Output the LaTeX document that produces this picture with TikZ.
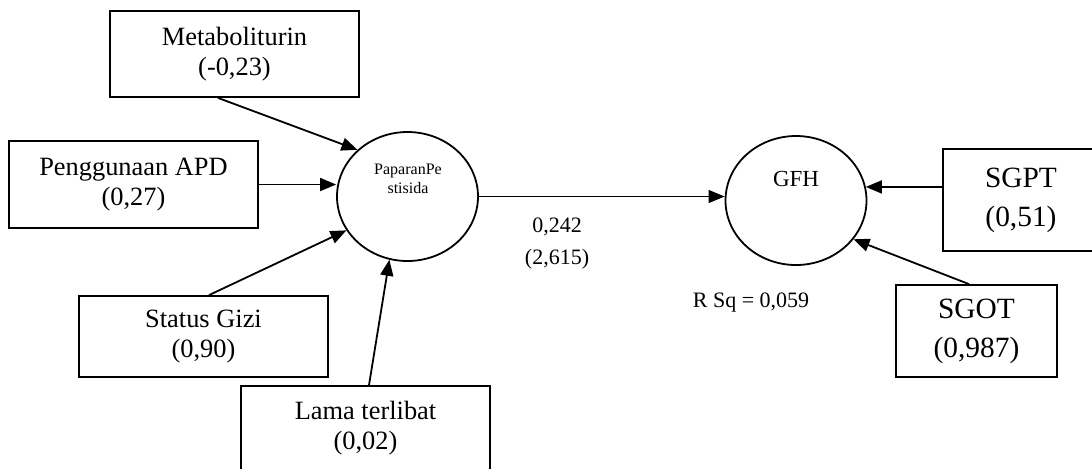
\documentclass[tikz,border=0pt]{standalone}
\usepackage{fontspec}
\setmainfont{Liberation Serif}
\usetikzlibrary{shapes.geometric,arrows.meta}

\begin{document}
\begin{tikzpicture}[x=0.5pt,y=-0.5pt,
  obsbox/.style={draw,line width=0.9pt,inner sep=0pt,align=center,minimum width=124.5pt,font=\fontsize{13.2}{15}\selectfont},
  bigbox/.style={obsbox,font=\fontsize{14.7}{19.5}\selectfont},
  latent/.style={draw,ellipse,line width=0.9pt,inner sep=0pt,minimum width=70.5pt,minimum height=64.5pt},
  arr/.style={line width=0.9pt,-{Triangle[length=8pt,width=6.5pt]}},
  lbl/.style={align=center,font=\fontsize{11}{16}\selectfont}]
\useasboundingbox (0,0) rectangle (1092,468);
% exogenous boxes
\node[obsbox,minimum height=43pt] (meta) at (234.5,54) {Metaboliturin\\(-0,23)};
\node[obsbox,minimum height=43.5pt] (apd) at (133.5,184.5) {Penggunaan APD\\(0,27)};
\node[obsbox,minimum height=40.5pt] (gizi) at (203.5,336.5) {Status Gizi\\(0,90)};
\node[obsbox,minimum height=42pt] (lama) at (365.5,428) {Lama terlibat\\(0,02)};
% latent
\node[latent] (pp) at (407.5,196.5) {};
\node[font=\fontsize{8}{9.5}\selectfont,align=center] (pptext) at (408,179) {PaparanPe\\stisida};
\node[latent] (gfh) at (796,200.5) {};
\node[font=\fontsize{11.5}{13}\selectfont] (gfhtext) at (796,179) {GFH};
% indicators
\node[bigbox,minimum width=78pt,minimum height=51pt] (sgpt) at (1021,200) {SGPT\\(0,51)};
\node[bigbox,minimum width=80.5pt,minimum height=46pt] (sgot) at (976.5,331) {SGOT\\(0,987)};
% labels
\node[lbl] (path) at (557,244) {0,242\\(2,615)};
\node[lbl] (rsq) at (751,303) {R Sq = 0,059};
% arrows
\draw[arr] ([xshift=-8.25pt]meta.south) -- (pp.137);
\draw[arr] (apd.east) -- (apd.east -| pp.west);
\draw[arr] ([xshift=2.75pt]gizi.north) -- (pp.209);
\draw[arr] ([xshift=1.75pt]lama.north) -- (pp.254);
\draw[arr,line width=0.65pt] (pp.east) -- (pp.east -| gfh.west);
\draw[arr] (sgpt.west |- gfh.11) -- (gfh.11);
\draw[arr] ([xshift=-3.75pt]sgot.north) -- (gfh.326);
\end{tikzpicture}
\end{document}
